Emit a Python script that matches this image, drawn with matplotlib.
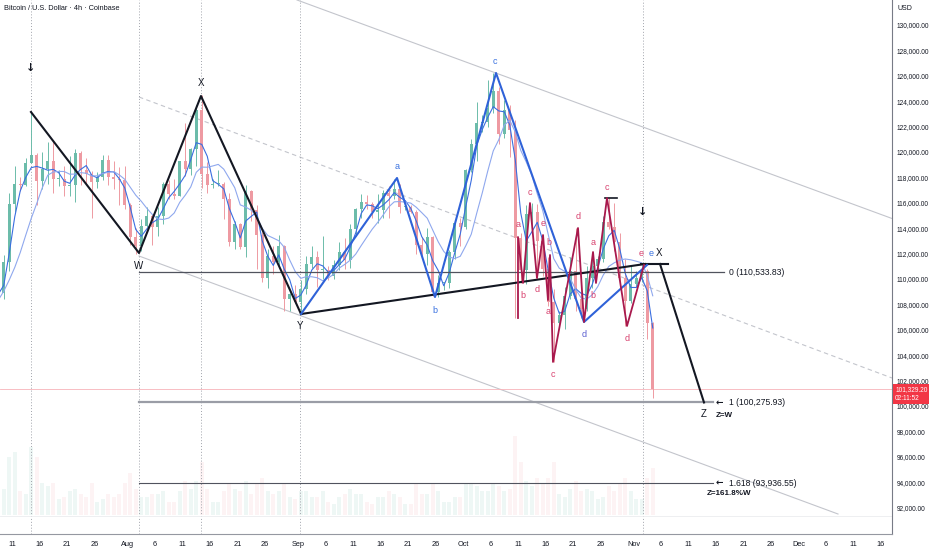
import numpy as np
import pandas as pd
import matplotlib
matplotlib.use('Agg')
import matplotlib.pyplot as plt

plt.rcParams['font.family'] = ['Liberation Sans', 'DejaVu Sans']

# daily candles, Jul 1 .. Nov 4 (values in thousands USD), day 0 = Jul 1
first_open = 107.1
closes = [
    105.7, 108.8, 109.6, 108.0, 108.2, 109.2, 108.3, 108.9, 111.3, 115.9,
    117.5, 117.4, 119.1, 119.8, 117.7, 118.7, 119.3, 117.9, 117.9, 117.3,
    117.4, 119.9, 118.6, 118.3, 117.6, 118.0, 119.4, 118.0, 117.9, 117.8, 115.8,
    113.3, 112.6, 114.2, 115.0, 114.1, 115.0, 117.5, 116.7, 116.5, 119.3,
    118.7, 120.2, 123.3, 118.3, 117.4, 117.5, 117.5, 116.3, 112.9, 114.3,
    112.5, 116.9, 115.4, 113.5, 110.1, 111.8, 111.3, 112.6, 108.4, 108.8, 108.2,
    109.2, 111.2, 111.7, 110.7, 110.7, 110.2, 111.1, 112.1, 111.5, 113.9,
    115.5, 116.1, 115.9, 115.3, 115.4, 116.8, 116.5, 117.1, 115.7, 115.7,
    115.3, 112.7, 112.0, 113.3, 109.0, 109.7, 109.7, 112.1, 114.4, 114.1,
    118.6, 120.6, 122.3, 122.4, 123.5, 124.8, 121.4, 123.3, 121.7, 113.2,
    110.7, 115.1, 115.3, 113.0, 110.8, 108.2, 106.5, 107.2, 108.7, 110.6,
    108.4, 107.6, 110.1, 111.0, 111.6, 114.5, 114.1, 112.9, 110.1, 108.3, 109.6,
    110.1, 110.6, 106.5, 101.33,
]
highs = [
    107.5, 109.8, 110.5, 109.7, 108.5, 109.7, 109.7, 109.2, 111.9, 116.8,
    118.9, 118.0, 119.5, 123.2, 119.9, 120.0, 120.8, 120.9, 118.6, 118.9,
    119.7, 120.2, 120.1, 119.5, 118.5, 118.4, 119.8, 119.8, 119.3, 118.8, 118.9,
    116.0, 114.0, 114.7, 115.7, 115.1, 115.7, 117.6, 117.8, 117.9, 119.3,
    122.3, 120.3, 123.7, 124.5, 119.2, 117.9, 118.6, 117.6, 116.8, 114.6,
    114.4, 117.4, 117.0, 115.8, 113.7, 112.4, 112.6, 113.5, 112.7, 108.9, 109.5,
    109.9, 111.8, 112.6, 112.2, 113.4, 111.0, 111.5, 112.9, 113.2, 114.3,
    115.6, 116.7, 116.6, 116.1, 116.7, 117.0, 117.3, 117.9, 117.5, 116.0,
    115.8, 115.4, 113.3, 114.0, 113.4, 110.3, 109.8, 112.3, 114.5, 114.8,
    118.7, 121.0, 123.9, 122.9, 125.7, 126.2, 125.1, 124.1, 123.7, 122.5,
    113.6, 115.8, 116.0, 115.9, 113.5, 111.7, 109.2, 107.5, 109.4, 111.7,
    114.0, 109.0, 111.0, 112.0, 111.8, 115.0, 116.4, 116.0, 113.6, 111.6, 111.1,
    110.6, 111.2, 110.8, 106.6,
]
lows = [
    105.3, 105.6, 108.6, 107.3, 107.8, 107.8, 107.5, 107.4, 108.4, 110.6,
    115.3, 116.9, 117.3, 119.1, 115.8, 117.1, 117.5, 116.8, 117.3, 116.5,
    116.5, 116.1, 117.4, 117.5, 114.8, 117.2, 117.8, 117.4, 117.1, 115.8, 115.5,
    112.7, 112.0, 112.2, 114.1, 112.7, 113.4, 114.3, 116.3, 116.3, 116.5,
    118.1, 118.2, 118.9, 117.2, 116.8, 117.2, 117.3, 114.7, 112.6, 112.4,
    112.4, 111.7, 114.6, 110.8, 109.8, 109.3, 110.4, 110.9, 107.5, 107.5, 108.1,
    107.3, 108.8, 110.9, 109.4, 110.0, 109.9, 110.0, 110.7, 110.8, 110.9,
    113.4, 114.8, 115.5, 114.8, 114.4, 114.8, 114.8, 116.3, 115.2, 115.4,
    115.2, 112.0, 111.6, 111.1, 108.7, 108.6, 109.1, 109.3, 111.6, 112.6,
    113.9, 118.4, 119.3, 121.6, 122.0, 123.1, 120.6, 121.1, 119.6, 106.9,
    109.7, 109.6, 113.9, 110.0, 110.2, 107.9, 103.5, 106.4, 106.1, 108.4,
    107.5, 106.9, 107.5, 109.3, 110.7, 111.3, 113.9, 112.2, 109.6, 106.3, 108.1,
    109.4, 109.8, 105.3, 100.6,
]
volumes = [
    8, 9, 8, 7, 4, 4, 7, 7, 10, 22, 24, 9, 8, 26, 22, 12, 11, 12, 6, 7,
    9, 10, 8, 7, 12, 5, 6, 8, 7, 8, 12,
    16, 10, 7, 7, 8, 8, 9, 5, 5, 9, 13, 10, 13, 20, 10, 5, 5, 9, 12, 10,
    9, 13, 8, 12, 14, 9, 8, 9, 12, 7, 6,
    9, 9, 7, 7, 9, 5, 4, 7, 8, 10, 8, 8, 5, 4, 7, 7, 9, 8, 7, 4,
    4, 12, 8, 8, 12, 9, 5, 5, 7, 7,
    12, 12, 11, 9, 9, 12, 11, 9, 10, 30, 20, 13, 11, 14, 12, 14, 20, 8, 7, 10,
    13, 9, 10, 9, 6, 7, 11, 9, 12, 14, 9,
    6, 6, 14, 18,
]
last_price = 101329.20

# x tick labels (day offsets from Jul 1)
tick_days = [10, 15, 20, 25, 31, 36, 41, 46, 51, 56, 62, 67, 72, 77, 82, 87,
             92, 97, 102, 107, 112, 117, 123, 128, 133, 138, 143, 148, 153,
             158, 163, 168]
tick_labels = ['11', '16', '21', '26', 'Aug', '6', '11', '16', '21', '26',
               'Sep', '6', '11', '16', '21', '26', 'Oct', '6', '11', '16',
               '21', '26', 'Nov', '6', '11', '16', '21', '26', 'Dec', '6',
               '11', '16']

# wave drawings (day, price)
wxy_days = [13.45, 33.09, 44.36, 62.55]
wxy_prices = [123150, 112047, 124409, 107244]
trend_days = [62.55, 125.09]
trend_prices = [107244, 111181]
xz_days = [127.82, 135.82]
xz_prices = [111181, 100276]
blue_days = [62.55, 80.0, 86.91, 98.0, 114.0, 125.45]
blue_prices = [107244, 117953, 108583, 126220, 106614, 111102]
red_days = [102.0, 102.0, 102.91, 104.18, 105.45, 106.55, 107.45, 107.82,
            108.36, 112.91, 114.0, 115.64, 116.18, 118.18, 121.82, 124.91]
red_prices = [106929, 113307, 109685, 115984, 110079, 113465, 108346, 111890,
              103465, 114016, 106614, 112126, 109685, 116378, 106299, 111102]

level_names = ['0 (110,533.83)', '1 (100,275.93)', '1.618 (93,936.55)']
level_prices = [110533.83, 100275.93, 93936.55]

marker_days = [13.45, 33.09, 44.36, 62.36, 124.73]

black_labels = [('W', 33.09, 111024), ('X', 44.36, 125433), ('Y', 62.36, 106299),
                ('X', 127.64, 112047), ('Z', 135.82, 99370)]
blue_labels = [('a', 80.0, 118819), ('b', 86.91, 107559), ('c', 97.82, 127087),
               ('d', 114.0, 105591), ('e', 126.18, 112047)]
red_labels = [('a', 102.0, 114252), ('b', 102.9, 108740), ('c', 104.18, 116850),
              ('d', 105.45, 109134), ('e', 106.55, 114409), ('b', 107.64, 112835),
              ('a', 107.45, 107402), ('c', 108.36, 102441), ('d', 112.91, 114882),
              ('a', 115.64, 112913), ('b', 115.64, 108740), ('c', 118.18, 117244),
              ('d', 121.82, 105276), ('e', 124.36, 112047)]

close_arr = np.array(closes) * 1000
high_arr = np.array(highs) * 1000
low_arr = np.array(lows) * 1000
open_arr = np.concatenate([[first_open * 1000], close_arr[:-1]])
xs = np.arange(len(closes)) + 0.5
up = close_arr >= open_arr
up_col, dn_col = '#6cbcaa', '#ee9aa2'
colors = np.where(up, up_col, dn_col)

fig = plt.figure(figsize=(9.32, 5.5), dpi=100)
ax = fig.add_axes([0, 16 / 550, 892 / 932, 534 / 550])
vax = fig.add_axes([0, 35 / 550, 892 / 932, 100 / 550], sharex=ax)
vax.set_zorder(0)
ax.set_zorder(1)
ax.patch.set_visible(False)

# volume
vax.bar(xs, volumes, width=0.8, color=colors, alpha=0.11, linewidth=0)
vax.set_ylim(0, 38)
vax.axis('off')

# candles
ax.vlines(xs, low_arr, high_arr, colors=colors, linewidth=0.7, zorder=2)
body = np.maximum(np.abs(close_arr - open_arr), 60)
ax.bar(xs, body, bottom=np.minimum(open_arr, close_arr), width=0.6,
       color=colors, linewidth=0, zorder=2)

# moving averages
s = pd.Series(close_arr)
ax.plot(xs, s.rolling(3, min_periods=1).mean(), color='#3a6ee0', lw=0.8, zorder=3)
ax.plot(xs, s.rolling(8, min_periods=1).mean(), color='#8fa8ee', lw=0.8, zorder=3)

# channel
ax.plot([61.82, 170.0], [131969, 114764], color='#c3c5cc', lw=0.8, zorder=1)
ax.plot([33.09, 170.0], [124331, 102205], color='#c3c5cc', lw=0.8, ls=(0, (4, 3)), zorder=1)
ax.plot([33.09, 160.18], [111811, 91496], color='#c3c5cc', lw=0.8, zorder=1)

# dotted markers
for d in marker_days:
    ax.axvline(d, color='#a0a3ab', lw=0.7, ls=(0, (1, 2)), zorder=1)

# last price line
ax.axhline(last_price, color='#f7b3b9', lw=0.6, zorder=1)

# fib levels
ax.plot([33.09, 139.45], [level_prices[0]] * 2, color='#50535e', lw=0.9, zorder=4)
ax.plot([33.09, 137.45], [level_prices[1]] * 2, color='#9a9da6', lw=1.6, zorder=4)
ax.plot([33.09, 137.45], [level_prices[2]] * 2, color='#50535e', lw=0.8, zorder=4)
for i, (name, price) in enumerate(zip(level_names, level_prices)):
    ax.text(140.36, price, name, fontsize=6.2, color='#131722', va='center', ha='left')
    if i > 0:
        ax.text(138.0, price, '\u2190', fontsize=6.5, fontweight='bold',
                color='#131722', va='center', ha='left', family=['DejaVu Sans'])
ax.text(138.0, 99291, 'Z=W', fontsize=5.8, fontweight='bold', color='#131722', va='center')
ax.text(136.36, 93071, 'Z=161.8%W', fontsize=5.8, fontweight='bold', color='#131722', va='center')

# waves
ax.plot(wxy_days, wxy_prices, color='#131722', lw=1.5, zorder=5)
ax.plot(trend_days, trend_prices, color='#131722', lw=1.5, zorder=5)
ax.plot([124.36, 129.27], [111181, 111181], color='#131722', lw=1.5, zorder=5)
ax.plot(xz_days, xz_prices, color='#131722', lw=1.5, zorder=5)
ax.plot([117.8, 120.0], [116378, 116378], color='#131722', lw=1.2, zorder=5)
ax.plot(blue_days, blue_prices, color='#2f62d8', lw=1.5, zorder=5)
ax.plot(red_days, red_prices, color='#a8194d', lw=1.3, zorder=6)

for t, d, p in black_labels:
    ax.text(d, p, t, fontsize=7, color='#131722', ha='center', va='center', zorder=7)
for t, d, p in blue_labels:
    c = '#5b5fd0' if t == 'd' else '#3a72e0'
    ax.text(d, p, t, fontsize=6.5, color=c, ha='center', va='center', zorder=7)
for t, d, p in red_labels:
    ax.text(d, p, t, fontsize=6.5, color='#d8426f', ha='center', va='center', zorder=7)
for d, p in [(13.45, 126614), (124.73, 115276)]:
    ax.text(d, p, '\u2193', fontsize=8, fontweight='bold', color='#131722',
            ha='center', va='center', family=['DejaVu Sans'], zorder=7)

# axes
ax.set_xlim(43 / 5.5, 935 / 5.5)
ax.set_ylim(130000 - (534 - 25) * 1000 / 12.7, 130000 + 25 * 1000 / 12.7)
ax.yaxis.tick_right()
yt = np.arange(92000, 130001, 2000)
ax.set_yticks(yt)
ax.set_yticklabels(['{:,.2f}'.format(v) for v in yt])
ax.set_xticks(tick_days)
ax.set_xticklabels(tick_labels)
ax.tick_params(axis='both', length=0, labelcolor='#131722')
ax.tick_params(axis='y', pad=3.5, labelsize=4.7)
ax.tick_params(axis='x', pad=5, labelsize=5.3)
for side in ['top', 'left']:
    ax.spines[side].set_visible(False)
ax.spines['right'].set_color('#787b86')
ax.spines['bottom'].set_color('#9598a1')
ax.spines['right'].set_linewidth(0.8)
ax.spines['bottom'].set_linewidth(0.8)
ax.plot([0, 1], [18 / 534, 18 / 534], transform=ax.transAxes, color='#ebecef', lw=0.6)

ax.text(1.0035, last_price + 250, '101,329.20\n02:11:52', transform=ax.get_yaxis_transform(),
        fontsize=4.7, color='white', va='top', ha='left', linespacing=1.35,
        bbox=dict(boxstyle='square,pad=0.3', facecolor='#f23645', edgecolor='none'),
        clip_on=False, zorder=8)

fig.text(4 / 932, 1 - 9 / 550, 'Bitcoin / U.S. Dollar \u00b7 4h \u00b7 Coinbase',
         fontsize=5.3, color='#131722', va='center')
fig.text(898 / 932, 1 - 9 / 550, 'USD', fontsize=5, color='#131722', va='center')

fig.savefig('out.png', dpi=100)
